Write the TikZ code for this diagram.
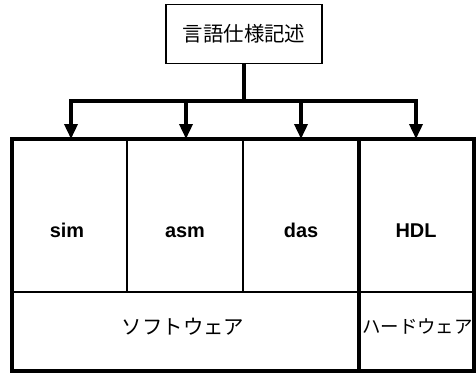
\documentclass[tikz,border=0pt]{standalone}
\usepackage{fontspec}
\setmainfont{Liberation Sans}
\newfontfamily\jp{Noto Sans CJK JP}
\usetikzlibrary{arrows.meta}
\tikzset{
  cell/.style={draw=black, line width=1.5bp, minimum width=#1, inner sep=0pt, outer sep=0pt},
  lab/.style={font=\fontsize{20}{21}\selectfont\bfseries, anchor=base},
  jlab/.style={font=\jp\fontsize{20.5}{21}\selectfont},
  conn/.style={line width=3.5bp},
  arr/.style={conn, -{Triangle[length=15bp,width=13bp]}},
}
\begin{document}
\begin{tikzpicture}[x=1bp,y=-1bp]
\useasboundingbox (0,0) rectangle (476,373);
% top box
\node[draw, line width=1.8bp, minimum width=156bp, minimum height=59bp, inner sep=0pt, jlab] (spec) at (244,34) {言語仕様記述};
% cells
\node[cell=115bp, minimum height=153bp] (csim) at (69.5,215.5) {};
\node[cell=116bp, minimum height=153bp] (casm) at (185,215.5) {};
\node[cell=116bp, minimum height=153bp] (cdas) at (301,215.5) {};
\node[cell=115bp, minimum height=153bp] (chdl) at (416.5,215.5) {};
\node[cell=347bp, minimum height=79bp] (csoft) at (185.5,331.5) {};
\node[cell=115bp, minimum height=79bp] (chard) at (416.5,331.5) {};
% labels
\node[lab] (tsim) at (67,237) {sim};
\node[lab] (tasm) at (185,237) {asm};
\node[lab] (tdas) at (301,237) {das};
\node[lab] (thdl) at (416,237) {HDL};
\node[jlab] (tsoft) at (183,327) {ソフトウェア};
\node[jlab, font=\jp\fontsize{18.5}{20}\selectfont] (thard) at (417.5,327) {ハードウェア};
% thick frame
\draw[line width=3.5bp] (csim.north west) rectangle (chard.south east);
\draw[line width=4bp] (chdl.north west) -- (chard.south west);
% connectors
\coordinate (b0) at (244,101);
\coordinate (b1) at (71,101);
\coordinate (b2) at (186,101);
\coordinate (b3) at (301,101);
\coordinate (b4) at (416,101);
\draw[conn] (spec.south) -- (b0);
\draw[conn, line cap=rect] (b1) -- (b4);
\draw[arr] (b1) -- (b1 |- csim.north);
\draw[arr] (b2) -- (b2 |- casm.north);
\draw[arr] (b3) -- (b3 |- cdas.north);
\draw[arr] (b4) -- (b4 |- chdl.north);
\end{tikzpicture}
\end{document}
